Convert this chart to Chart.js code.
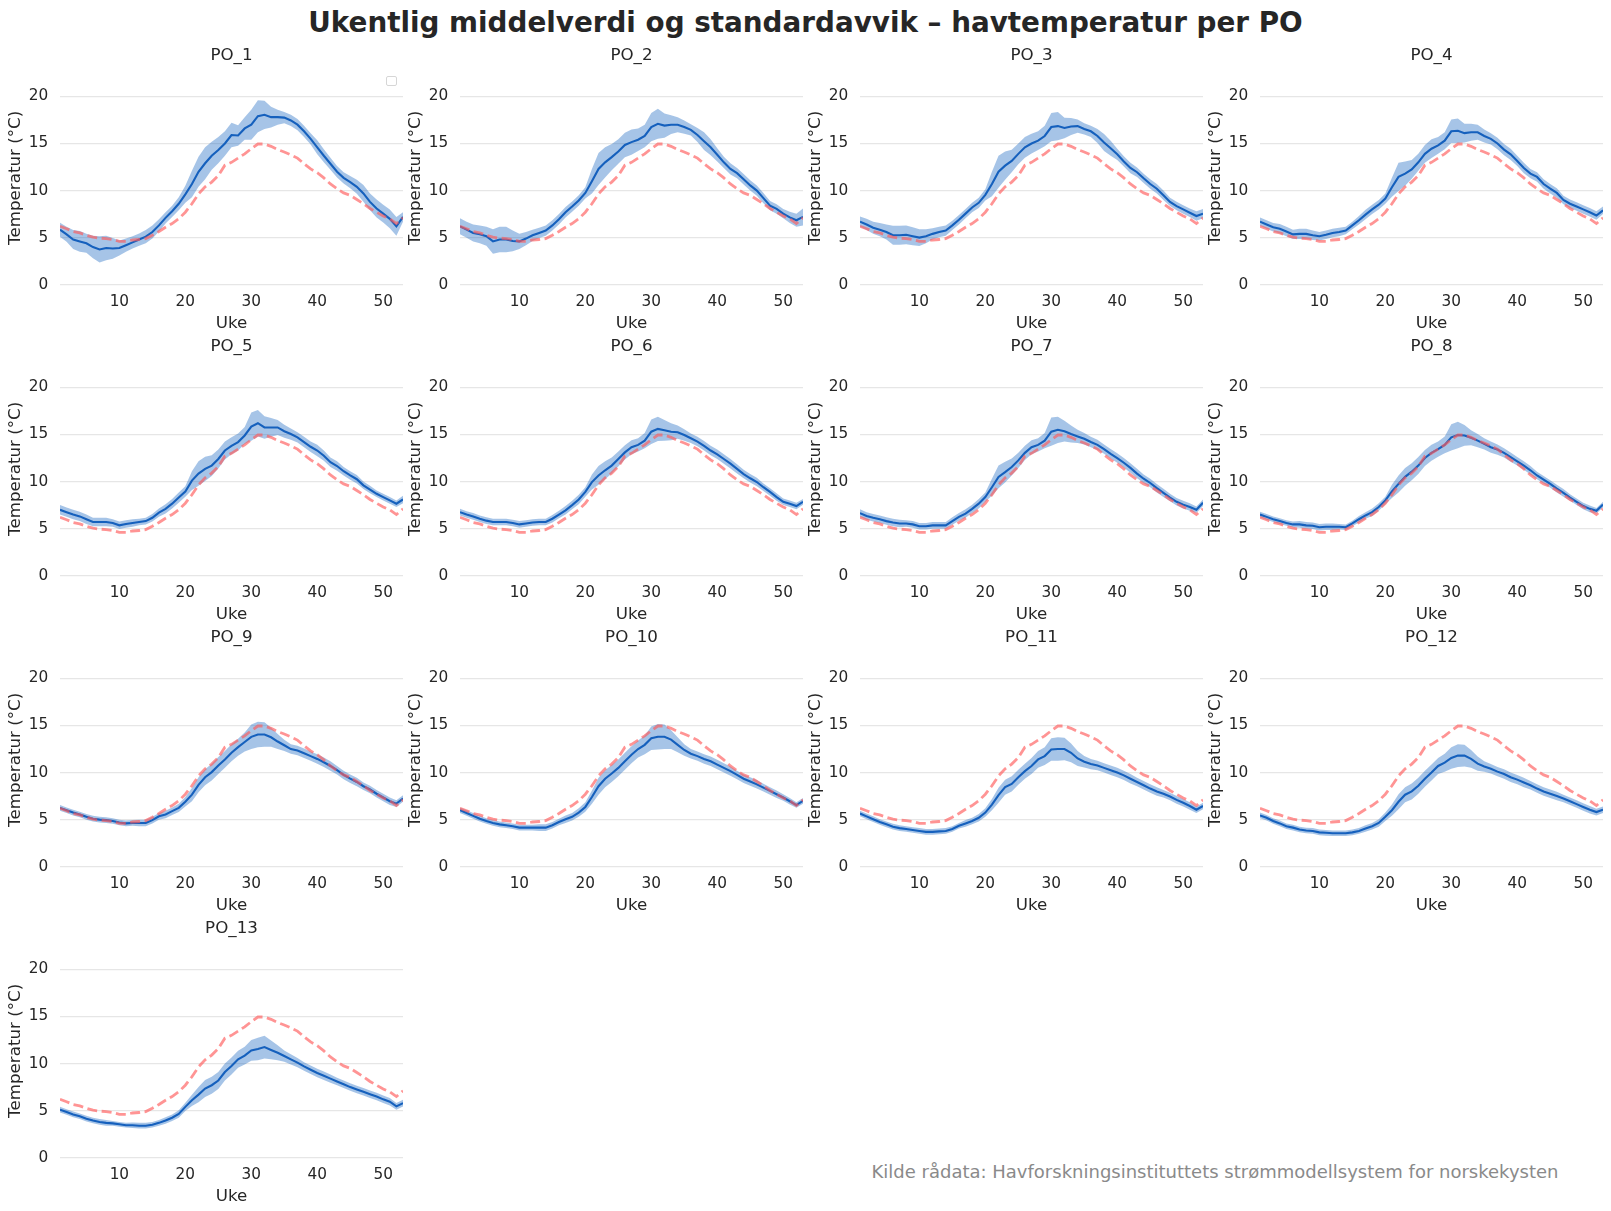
<!DOCTYPE html>
<html>
<head>
<meta charset="utf-8">
<script src="https://cdn.jsdelivr.net/npm/chart.js@4.4.1/dist/chart.umd.min.js"></script>
<style>
  html, body { margin: 0; padding: 0; background: #ffffff; }
  #fig { position: relative; width: 1611px; height: 1211px; overflow: hidden; font-family: "DejaVu Sans", sans-serif; }
  #fig canvas { position: absolute; }
  #title { position: absolute; left: 0; top: 7px; width: 1611px; text-align: center; font-weight: bold; font-size: 27.8px; line-height: 32px; color: #262626; }
  #source { position: absolute; left: 765px; top: 1161px; width: 900px; text-align: center; font-size: 18px; line-height: 22px; color: #8a8a8a; }
  #emptyLegend { position: absolute; left: 386px; top: 76px; width: 9px; height: 8px; border: 1px solid #d6d6d6; border-radius: 2px; background: #fff; }
</style>
</head>
<body>
<div id="fig">
  <div id="title">Ukentlig middelverdi og standardavvik – havtemperatur per PO</div>
  <div id="source">Kilde rådata: Havforskningsinstituttets strømmodellsystem for norskekysten</div>
</div>
<script>
// ---------- data ----------
const weeks = [1,2,3,4,5,6,7,8,9,10,11,12,13,14,15,16,17,18,19,20,21,22,23,24,25,26,27,28,29,30,31,32,33,34,35,36,37,38,39,40,41,42,43,44,45,46,47,48,49,50,51,52,53];
const xTicks = [10,20,30,40,50];
const yTicks = [0,5,10,15,20];
const panelNames = ["PO_1","PO_2","PO_3","PO_4","PO_5","PO_6","PO_7","PO_8","PO_9","PO_10","PO_11","PO_12","PO_13"];

// reference (dashed red), identical in all panels
const reference = [6.2,5.95,5.65,5.5,5.25,5.05,4.95,4.9,4.8,4.6,4.6,4.75,4.8,4.9,5.25,5.65,6.1,6.5,7.0,7.7,8.6,9.65,10.4,10.9,11.6,12.7,13.0,13.45,13.9,14.45,14.95,14.95,14.7,14.35,14.1,13.8,13.45,12.85,12.3,11.9,11.35,10.7,10.2,9.75,9.5,9.05,8.6,8.1,7.7,7.3,7.0,6.5,7.1];

const mean_PO_1 = [5.84,5.35,4.8,4.6,4.4,4.0,3.75,3.9,3.85,3.9,4.2,4.5,4.8,5.1,5.6,6.3,7.1,7.8,8.6,9.6,10.7,12.0,12.9,13.7,14.3,15.0,15.9,15.85,16.6,17.0,17.9,18.05,17.8,17.8,17.75,17.45,17.0,16.3,15.5,14.6,13.7,12.85,12.0,11.35,10.9,10.4,9.7,8.8,8.1,7.55,7.0,6.2,7.2];
const sd_PO_1 = [0.75,0.8,1.0,1.1,1.0,1.2,1.4,1.3,1.1,0.8,0.7,0.65,0.65,0.7,0.7,0.65,0.6,0.6,0.7,0.9,1.4,1.6,1.7,1.5,1.4,1.3,1.3,1.1,1.2,1.6,1.7,1.5,1.1,0.8,0.6,0.6,0.6,0.6,0.6,0.75,0.7,0.65,0.6,0.6,0.65,0.75,0.9,0.9,0.95,0.95,1.0,1.0,0.5];

const mean_PO_2 = [6.2,5.85,5.5,5.35,5.15,4.6,4.8,4.8,4.65,4.6,4.9,5.25,5.5,5.75,6.3,6.95,7.7,8.3,8.95,9.75,11.0,12.3,13.0,13.55,14.15,14.85,15.15,15.4,15.8,16.75,17.1,16.9,17.0,17.0,16.75,16.45,15.9,15.25,14.6,13.8,13.0,12.3,11.85,11.2,10.55,10.0,9.2,8.4,8.05,7.55,7.15,6.85,7.2];
const sd_PO_2 = [0.85,0.85,0.9,0.95,1.0,1.3,1.35,1.35,1.1,0.8,0.7,0.6,0.55,0.55,0.55,0.55,0.55,0.55,0.55,0.6,1.3,1.7,1.6,1.4,1.3,1.3,1.35,1.2,1.2,1.5,1.6,1.3,1.0,0.8,0.7,0.6,0.75,0.95,0.85,0.7,0.6,0.6,0.55,0.55,0.55,0.55,0.55,0.5,0.5,0.5,0.6,0.7,0.9];

const mean_PO_3 = [6.7,6.4,6.05,5.85,5.6,5.25,5.25,5.3,5.15,5.0,5.15,5.4,5.6,5.75,6.3,6.9,7.55,8.2,8.7,9.55,10.7,12.0,12.65,13.15,13.9,14.6,15.0,15.3,15.8,16.75,16.85,16.65,16.8,16.85,16.55,16.3,15.8,15.1,14.5,13.85,13.1,12.4,11.95,11.3,10.7,10.2,9.5,8.8,8.35,8.0,7.65,7.3,7.55];
const sd_PO_3 = [0.55,0.6,0.65,0.7,0.8,1.0,1.0,1.0,0.95,0.9,0.75,0.6,0.55,0.55,0.5,0.5,0.5,0.5,0.55,0.6,1.3,1.7,1.5,1.2,1.1,1.1,1.05,1.0,1.1,1.5,1.5,1.1,0.9,0.7,0.6,0.6,0.75,0.9,0.8,0.6,0.55,0.55,0.5,0.5,0.5,0.5,0.5,0.45,0.45,0.45,0.45,0.5,0.5];

const mean_PO_4 = [6.7,6.4,6.1,5.95,5.65,5.35,5.4,5.4,5.25,5.15,5.3,5.5,5.6,5.75,6.3,6.85,7.45,8.0,8.5,9.15,10.35,11.45,11.8,12.25,13.0,13.9,14.45,14.8,15.3,16.3,16.35,16.1,16.2,16.2,15.8,15.5,15.0,14.35,13.85,13.15,12.4,11.8,11.45,10.7,10.2,9.75,9.0,8.6,8.3,8.0,7.7,7.35,7.9];
const sd_PO_4 = [0.45,0.45,0.45,0.5,0.5,0.5,0.55,0.55,0.5,0.45,0.45,0.45,0.45,0.4,0.4,0.45,0.5,0.5,0.5,0.55,1.0,1.5,1.3,1.0,0.9,0.95,1.0,0.9,0.9,1.25,1.3,1.0,0.9,0.8,0.7,0.6,0.6,0.6,0.6,0.55,0.55,0.5,0.5,0.5,0.5,0.5,0.45,0.45,0.45,0.45,0.45,0.45,0.4];

const mean_PO_5 = [7.0,6.75,6.5,6.3,6.0,5.7,5.7,5.7,5.6,5.35,5.5,5.6,5.7,5.8,6.15,6.7,7.1,7.65,8.3,8.95,10.1,10.85,11.35,11.7,12.4,13.3,13.8,14.2,14.9,15.85,16.2,15.75,15.75,15.75,15.35,15.05,14.7,14.2,13.7,13.3,12.75,12.05,11.65,11.1,10.65,10.25,9.6,9.15,8.7,8.35,8.0,7.65,8.1];
const sd_PO_5 = [0.5,0.5,0.5,0.5,0.5,0.45,0.45,0.45,0.4,0.4,0.4,0.4,0.35,0.35,0.4,0.45,0.5,0.5,0.55,0.55,1.0,1.3,1.3,1.1,1.0,0.95,0.9,0.9,0.9,1.5,1.4,1.2,1.0,0.8,0.7,0.6,0.55,0.55,0.55,0.6,0.55,0.5,0.5,0.45,0.45,0.45,0.4,0.4,0.35,0.35,0.35,0.35,0.4];

const mean_PO_6 = [6.75,6.5,6.3,6.05,5.85,5.7,5.7,5.7,5.6,5.45,5.55,5.65,5.7,5.7,6.05,6.5,6.95,7.5,8.1,8.9,9.95,10.65,11.2,11.7,12.4,13.1,13.65,13.9,14.35,15.3,15.6,15.45,15.3,15.25,14.95,14.6,14.25,13.8,13.3,12.9,12.4,11.9,11.35,10.8,10.35,9.95,9.4,8.9,8.35,7.85,7.65,7.4,7.85];
const sd_PO_6 = [0.35,0.35,0.35,0.35,0.35,0.35,0.35,0.35,0.35,0.35,0.35,0.35,0.35,0.35,0.4,0.4,0.45,0.45,0.5,0.5,0.8,1.0,0.95,0.85,0.8,0.75,0.75,0.7,0.8,1.3,1.3,1.1,0.9,0.7,0.6,0.5,0.5,0.5,0.5,0.5,0.5,0.5,0.5,0.45,0.45,0.45,0.4,0.4,0.4,0.35,0.35,0.35,0.3];

const mean_PO_7 = [6.65,6.35,6.15,6.0,5.8,5.65,5.55,5.55,5.45,5.25,5.25,5.35,5.35,5.35,5.8,6.25,6.6,7.1,7.65,8.35,9.4,10.5,11.0,11.55,12.25,13.05,13.65,13.9,14.35,15.3,15.5,15.35,15.05,14.8,14.55,14.2,13.9,13.45,12.95,12.5,12.0,11.45,10.85,10.3,9.85,9.3,8.8,8.3,7.85,7.55,7.3,7.0,7.75];
const sd_PO_7 = [0.4,0.4,0.4,0.4,0.4,0.4,0.4,0.35,0.35,0.35,0.35,0.35,0.35,0.35,0.4,0.4,0.45,0.45,0.5,0.5,0.9,1.2,1.1,0.9,0.8,0.75,0.75,0.7,0.8,1.5,1.4,1.1,0.9,0.7,0.6,0.55,0.55,0.5,0.5,0.5,0.5,0.5,0.5,0.45,0.45,0.45,0.45,0.4,0.4,0.4,0.4,0.35,0.35];

const mean_PO_8 = [6.5,6.25,6.0,5.8,5.6,5.45,5.45,5.35,5.3,5.15,5.2,5.2,5.2,5.15,5.55,6.0,6.4,6.75,7.3,8.0,8.95,9.75,10.5,11.05,11.7,12.5,13.05,13.45,13.9,14.7,14.95,14.9,14.65,14.35,14.0,13.65,13.4,13.05,12.6,12.15,11.7,11.2,10.65,10.2,9.75,9.25,8.8,8.3,7.85,7.4,7.1,6.9,7.55];
const sd_PO_8 = [0.3,0.3,0.3,0.3,0.3,0.3,0.35,0.35,0.35,0.35,0.35,0.35,0.3,0.3,0.3,0.35,0.35,0.4,0.4,0.4,0.7,0.9,0.95,0.9,0.9,0.85,0.85,0.8,0.9,1.4,1.4,1.1,0.8,0.7,0.6,0.6,0.55,0.5,0.5,0.45,0.45,0.45,0.4,0.4,0.4,0.4,0.4,0.35,0.35,0.35,0.35,0.3,0.3];

const mean_PO_9 = [6.25,6.0,5.75,5.55,5.3,5.1,5.0,4.95,4.85,4.7,4.6,4.65,4.65,4.65,4.95,5.35,5.55,5.9,6.25,6.9,7.65,8.7,9.5,10.05,10.75,11.4,12.1,12.7,13.25,13.8,14.05,14.05,13.75,13.3,12.9,12.5,12.35,12.05,11.75,11.45,11.1,10.7,10.25,9.75,9.35,9.0,8.55,8.2,7.75,7.35,6.95,6.7,7.25];
const sd_PO_9 = [0.3,0.3,0.3,0.3,0.3,0.3,0.3,0.3,0.3,0.3,0.3,0.3,0.35,0.35,0.35,0.35,0.4,0.4,0.45,0.5,0.7,0.8,0.85,0.9,0.9,0.9,0.9,0.9,1.0,1.3,1.35,1.3,1.0,0.8,0.6,0.5,0.5,0.5,0.5,0.5,0.5,0.5,0.45,0.45,0.45,0.45,0.4,0.4,0.4,0.4,0.4,0.35,0.35];

const mean_PO_10 = [6.0,5.7,5.4,5.1,4.85,4.65,4.5,4.4,4.3,4.15,4.15,4.15,4.15,4.15,4.4,4.75,5.05,5.3,5.75,6.35,7.4,8.55,9.35,9.9,10.5,11.2,11.9,12.5,12.95,13.65,13.8,13.8,13.5,12.95,12.4,12.0,11.75,11.45,11.2,10.85,10.5,10.15,9.75,9.35,9.05,8.75,8.4,8.05,7.7,7.35,6.95,6.55,7.0];
const sd_PO_10 = [0.3,0.3,0.3,0.3,0.3,0.3,0.3,0.3,0.3,0.3,0.3,0.3,0.35,0.35,0.35,0.35,0.4,0.4,0.45,0.5,0.7,0.9,0.9,0.9,0.9,0.9,0.9,0.9,1.0,1.25,1.35,1.3,1.0,0.8,0.6,0.5,0.5,0.5,0.5,0.5,0.5,0.5,0.45,0.45,0.45,0.45,0.4,0.4,0.4,0.35,0.35,0.3,0.3];

const mean_PO_11 = [5.65,5.35,5.05,4.75,4.5,4.25,4.1,4.0,3.9,3.8,3.7,3.7,3.75,3.8,4.0,4.35,4.6,4.85,5.2,5.75,6.6,7.6,8.45,8.8,9.5,10.15,10.7,11.4,11.75,12.45,12.5,12.5,12.1,11.5,11.15,10.9,10.75,10.5,10.25,10.0,9.7,9.35,9.0,8.65,8.3,8.0,7.75,7.45,7.1,6.8,6.45,6.05,6.45];
const sd_PO_11 = [0.3,0.3,0.3,0.3,0.3,0.3,0.3,0.3,0.3,0.3,0.3,0.3,0.3,0.3,0.3,0.3,0.35,0.35,0.4,0.45,0.6,0.8,0.8,0.8,0.8,0.8,0.85,0.9,0.95,1.2,1.25,1.2,1.0,0.8,0.6,0.55,0.5,0.5,0.5,0.5,0.5,0.5,0.45,0.45,0.45,0.45,0.4,0.4,0.4,0.4,0.4,0.35,0.35];

const mean_PO_12 = [5.45,5.2,4.85,4.6,4.3,4.15,3.95,3.85,3.8,3.65,3.6,3.55,3.55,3.55,3.65,3.8,4.05,4.3,4.65,5.3,6.0,6.9,7.65,8.0,8.6,9.35,10.0,10.7,11.05,11.55,11.8,11.8,11.45,10.95,10.65,10.4,10.1,9.85,9.5,9.25,8.95,8.65,8.3,8.0,7.75,7.5,7.25,6.95,6.65,6.35,6.05,5.8,6.05];
const sd_PO_12 = [0.3,0.3,0.3,0.3,0.3,0.3,0.3,0.3,0.3,0.3,0.3,0.3,0.3,0.3,0.3,0.3,0.35,0.35,0.4,0.45,0.6,0.8,0.8,0.85,0.85,0.85,0.85,0.85,0.95,1.15,1.2,1.15,0.95,0.75,0.55,0.5,0.5,0.5,0.5,0.5,0.5,0.45,0.45,0.45,0.45,0.45,0.4,0.4,0.4,0.4,0.4,0.35,0.35];

const mean_PO_13 = [5.1,4.85,4.6,4.4,4.15,3.95,3.8,3.7,3.65,3.55,3.45,3.45,3.4,3.4,3.5,3.7,3.95,4.25,4.65,5.4,6.1,6.7,7.35,7.7,8.2,9.1,9.75,10.45,10.85,11.4,11.55,11.75,11.45,11.15,10.8,10.45,10.1,9.7,9.35,9.0,8.7,8.4,8.1,7.8,7.5,7.25,7.0,6.75,6.5,6.2,5.95,5.45,5.8];
const sd_PO_13 = [0.3,0.3,0.3,0.3,0.3,0.3,0.3,0.3,0.25,0.25,0.25,0.3,0.3,0.3,0.3,0.3,0.35,0.35,0.4,0.45,0.6,0.8,0.9,0.9,0.9,0.9,0.9,0.9,0.95,1.1,1.2,1.2,1.0,0.8,0.6,0.55,0.5,0.45,0.45,0.45,0.45,0.45,0.4,0.4,0.4,0.4,0.4,0.4,0.4,0.4,0.4,0.35,0.35];

const means = [mean_PO_1,mean_PO_2,mean_PO_3,mean_PO_4,mean_PO_5,mean_PO_6,mean_PO_7,mean_PO_8,mean_PO_9,mean_PO_10,mean_PO_11,mean_PO_12,mean_PO_13];
const sds = [sd_PO_1,sd_PO_2,sd_PO_3,sd_PO_4,sd_PO_5,sd_PO_6,sd_PO_7,sd_PO_8,sd_PO_9,sd_PO_10,sd_PO_11,sd_PO_12,sd_PO_13];

// ---------- layout / style ----------
const FONT = '"DejaVu Sans", sans-serif';
const TEXT = '#262626';
const COL_STRIDE = 400, ROW_STRIDE = 291;
const CANVAS_W = 403, CANVAS_H = 297, CANVAS_TOP0 = 39.5;
const Y_AXIS_W = 60, X_AXIS_H = 52.3;

const fig = document.getElementById('fig');

function pts(arr) { return weeks.map((w, i) => ({x: w, y: arr[i]})); }

panelNames.forEach((name, p) => {
  const col = p % 4, row = Math.floor(p / 4);
  const cv = document.createElement('canvas');
  cv.width = CANVAS_W; cv.height = CANVAS_H;
  cv.style.left = (col * COL_STRIDE) + 'px';
  cv.style.top = (CANVAS_TOP0 + row * ROW_STRIDE) + 'px';
  cv.style.width = CANVAS_W + 'px'; cv.style.height = CANVAS_H + 'px';
  fig.appendChild(cv);

  const m = means[p], s = sds[p];
  const upper = m.map((v, i) => v + s[i]);
  const lower = m.map((v, i) => v - s[i]);

  new Chart(cv, {
    type: 'line',
    data: {
      datasets: [
        { label: 'Referanse', data: pts(reference), borderColor: 'rgba(255,90,90,0.65)', borderWidth: 2.8,
          borderDash: [10, 4.5], pointRadius: 0, fill: false, order: 0, tension: 0 },
        { label: 'Middel', data: pts(m), borderColor: '#1560bd', borderWidth: 2.1,
          pointRadius: 0, fill: false, order: 1, tension: 0 },
        { label: 'upper', data: pts(upper), borderWidth: 0, borderColor: 'rgba(0,0,0,0)',
          backgroundColor: 'rgba(21,101,192,0.38)', pointRadius: 0, fill: '+1', order: 2, tension: 0 },
        { label: 'lower', data: pts(lower), borderWidth: 0, borderColor: 'rgba(0,0,0,0)',
          pointRadius: 0, fill: false, order: 3, tension: 0 }
      ]
    },
    options: {
      responsive: false,
      animation: false,
      devicePixelRatio: 1,
      layout: { padding: 0 },
      plugins: {
        legend: { display: false },
        tooltip: { enabled: false },
        title: { display: true, text: name, color: TEXT, fullSize: false,
                 font: { family: FONT, size: 16.7, weight: 'normal', lineHeight: 1.2 },
                 padding: { top: 5.3, bottom: 5.7 } }
      },
      scales: {
        x: {
          type: 'linear', min: 1, max: 53,
          afterBuildTicks: (sc) => { sc.ticks = xTicks.map(v => ({value: v})); },
          afterFit: (sc) => { sc.height = X_AXIS_H; },
          grid: { display: false, drawTicks: false },
          border: { display: false },
          ticks: { color: TEXT, font: { family: FONT, size: 15.3, lineHeight: 1.2 }, padding: 8, maxRotation: 0, autoSkip: false },
          title: { display: true, text: 'Uke', color: TEXT,
                   font: { family: FONT, size: 16.7, lineHeight: 1.2 }, padding: { top: 0, bottom: 3.8 } }
        },
        y: {
          type: 'linear', min: 0, max: 22.7,
          afterBuildTicks: (sc) => { sc.ticks = yTicks.map(v => ({value: v})); },
          afterFit: (sc) => { sc.width = Y_AXIS_W; },
          grid: { color: '#e6e6e6', lineWidth: 1.3, drawTicks: false },
          border: { display: false },
          ticks: { color: TEXT, font: { family: FONT, size: 15.3, lineHeight: 1.2 }, padding: 11.7, autoSkip: false },
          title: { display: true, text: 'Temperatur (°C)', color: TEXT,
                   font: { family: FONT, size: 16.7, lineHeight: 1.2 }, padding: { top: 5.4, bottom: 0 } }
        }
      }
    }
  });
});

// empty matplotlib legend frame in the first panel
const leg = document.createElement('div');
leg.id = 'emptyLegend';
fig.appendChild(leg);
</script>
</body>
</html>
